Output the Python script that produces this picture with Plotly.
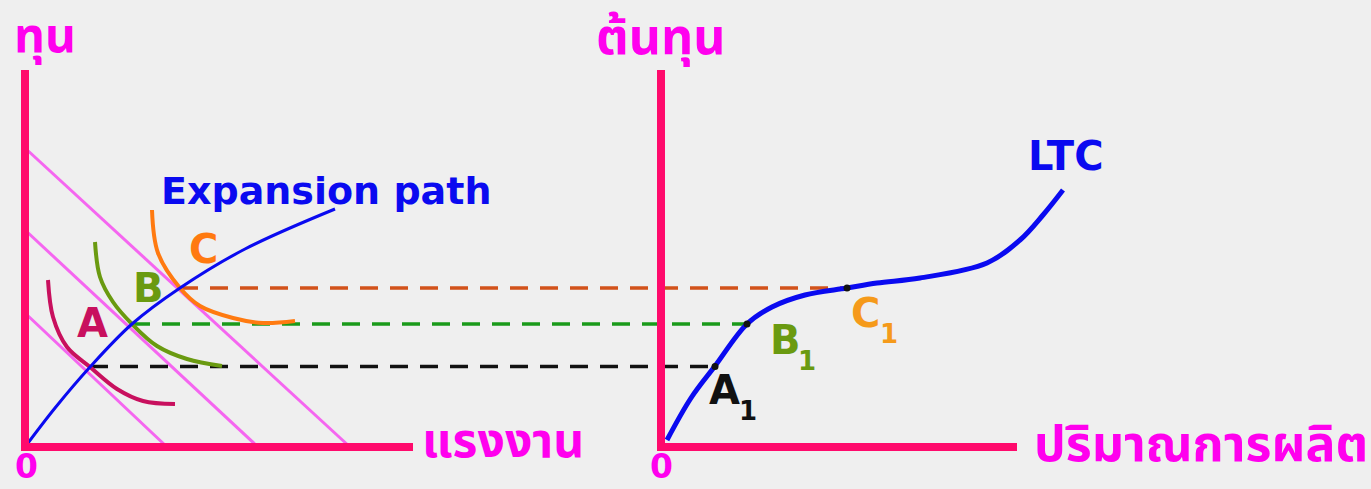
import plotly.graph_objects as go

# ---- left panel: inputs (labour on x, capital on y) ----
budget_labour = [[0, 14.2], [0, 23.3], [0, 32.5]]
budget_capital = [[13.4, 0], [21.7, 0], [29.9, 0]]

path_labour = [0, 3.0, 6.5, 10.7, 15.5, 22.0, 31.0]
path_capital = [0, 3.9, 8.0, 12.3, 15.9, 19.8, 23.8]

iso_a_labour = [2.3, 2.8, 4.2, 6.5, 9.2, 11.8, 15.0]
iso_a_capital = [16.7, 13.0, 10.0, 8.0, 5.8, 4.6, 4.3]
iso_b_labour = [7.0, 7.5, 8.8, 10.7, 13.2, 16.2, 19.7]
iso_b_capital = [20.5, 17.0, 14.5, 12.3, 10.1, 8.8, 8.1]
iso_c_labour = [12.7, 13.3, 15.5, 17.5, 20.8, 23.8, 27.0]
iso_c_capital = [23.7, 19.4, 15.9, 14.1, 12.9, 12.4, 12.6]

# ---- right panel: output and long-run total cost ----
q_offset = 63.6
ltc_q = [0.6, 3.0, 5.4, 8.6, 11.1, 14.4, 18.6, 21.6, 25.9, 32.6, 35.9, 38.2, 40.2]
ltc_cost = [0.7, 4.9, 8.1, 12.3, 14.0, 15.2, 15.9, 16.4, 16.9, 18.4, 20.7, 23.2, 25.7]

point_labour = [6.5, 10.7, 15.5]
point_cost = [8.05, 12.3, 15.9]
point_q = [5.4, 8.6, 18.6]

axis_top = 37.7
left_x_len = 38.8
right_x_len = 35.6

AXIS = "#ff0a6c"
LABEL = "#ff00ee"
BLUE = "#0a0af0"

fig = go.Figure()

def line(x, y, color, width, dash="solid", shape="linear"):
    fig.add_trace(go.Scatter(x=x, y=y, mode="lines", hoverinfo="skip",
                             line=dict(color=color, width=width, dash=dash, shape=shape)))

# budget lines
for bx, by in zip(budget_labour, budget_capital):
    line(bx, by, "#f566f0", 3)

# dashed projections from isoquant tangencies to LTC
dash_colors = ["#111111", "#1a9a1a", "#d2521a"]
for lab, c, q, col in zip(point_labour, point_cost, point_q, dash_colors):
    line([lab, q_offset + q], [c, c], col, 3.5, dash="18px,12px")

# isoquants
line(iso_a_labour, iso_a_capital, "#c8105e", 4, shape="spline")
line(iso_b_labour, iso_b_capital, "#6a9a10", 4, shape="spline")
line(iso_c_labour, iso_c_capital, "#ff7a10", 4, shape="spline")

# expansion path
line(path_labour, path_capital, BLUE, 3, shape="spline")

# LTC
line([q_offset + q for q in ltc_q], ltc_cost, BLUE, 5, shape="spline")

# points on LTC
fig.add_trace(go.Scatter(x=[q_offset + q for q in point_q], y=point_cost, mode="markers",
                         marker=dict(color="#111111", size=7), hoverinfo="skip"))

# axes
for x0, xlen in [(0, left_x_len), (q_offset, right_x_len)]:
    line([x0, x0, x0 + xlen], [axis_top, 0, 0], AXIS, 8)

fig.update_traces(showlegend=False)

latin = "DejaVu Sans, Arial, sans-serif"
thai = "Noto Sans Thai, Tahoma, Noto Sans, sans-serif"

def text(x, y, s, color, size, family=latin, xanchor="center"):
    fig.add_annotation(x=x, y=y, text=s, showarrow=False, xanchor=xanchor, yanchor="middle",
                       font=dict(family=family, size=size, color=color, weight="bold"))

text(2.0, 41.0, "ทุน", LABEL, 48, family=thai)
text(q_offset, 40.8, "ต้นทุน", LABEL, 50, family=thai)
text(39.5, 0.5, "แรงงาน", LABEL, 48, family=thai, xanchor="left")
text(q_offset + 37.1, 0.1, "ปริมาณการผลิต", LABEL, 50, family=thai, xanchor="left")
text(0.1, -1.9, "0", LABEL, 33)
text(q_offset, -1.9, "0", LABEL, 33)

text(13.4, 25.6, "Expansion path", BLUE, 38, xanchor="left")
text(q_offset + 40.5, 29.1, "LTC", BLUE, 40)

text(6.7, 12.4, "A", "#c8105e", 40)
text(12.3, 15.9, "B", "#6a9a10", 40)
text(17.8, 19.8, "C", "#ff7a10", 40)

# output points on LTC with subscripts
sub_labels = [("A", "#111111", 4.6, 5.7, 8.7, 3.6),
              ("B", "#6a9a10", 10.7, 10.7, 14.6, 8.6),
              ("C", "#f59a1a", 18.8, 13.4, 22.8, 11.3)]
for s, col, lx, ly, nx, ny in sub_labels:
    text(q_offset + lx, ly, s, col, 40, xanchor="left")
    text(q_offset + nx, ny, "1", col, 26)

fig.update_layout(
    width=1371, height=489,
    margin=dict(l=0, r=0, t=0, b=0),
    paper_bgcolor="#efefef", plot_bgcolor="#efefef",
    xaxis=dict(range=[-2.5, 134.6], visible=False, fixedrange=True),
    yaxis=dict(range=[-4.2, 44.7], visible=False, fixedrange=True),
)

fig.write_html("out.html", config={"displayModeBar": False},
               post_script="document.body.style.margin='0';")
